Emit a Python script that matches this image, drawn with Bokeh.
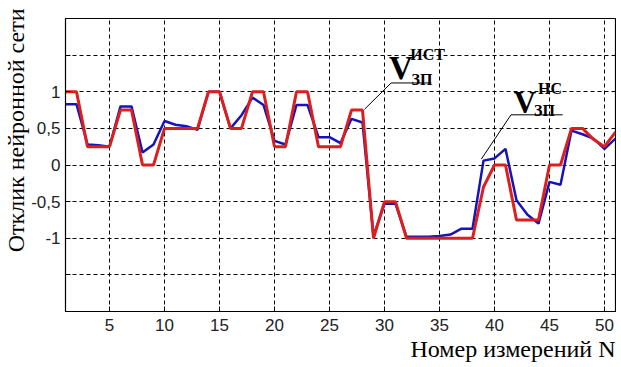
from bokeh.plotting import figure
from bokeh.models import FixedTicker, Label, Title
from bokeh.embed import file_html
from bokeh.resources import INLINE

N = list(range(1, 52))
target = [1, 1, 0.25, 0.25, 0.25, 0.75, 0.75, 0, 0, 0.5,
          0.5, 0.5, 0.5, 1, 1, 0.5, 0.5, 1, 1, 0.25,
          0.25, 1, 1, 0.25, 0.25, 0.25, 0.75, 0.75, -1, -0.5,
          -0.5, -1, -1, -1, -1, -1, -1, -1, -0.3, 0,
          0, -0.75, -0.75, -0.75, 0, 0, 0.5, 0.5, 0.35, 0.25,
          0.45]
network = [0.83, 0.83, 0.28, 0.27, 0.25, 0.8, 0.8, 0.17, 0.28, 0.6,
           0.55, 0.53, 0.48, 1.0, 1.0, 0.5, 0.68, 0.92, 0.82, 0.33,
           0.28, 0.82, 0.82, 0.38, 0.38, 0.3, 0.63, 0.58, -0.97, -0.53,
           -0.53, -0.98, -0.98, -0.98, -0.97, -0.95, -0.87, -0.87, 0.06, 0.09,
           0.22, -0.48, -0.68, -0.8, -0.23, -0.27, 0.47, 0.42, 0.36, 0.22,
           0.36]
x_ticks = [5, 10, 15, 20, 25, 30, 35, 40, 45, 50]
y_ticks = [-1.5, -1, -0.5, 0, 0.5, 1, 1.5]
y_labels = {-1.5: "", -1: "-1", -0.5: "-0,5", 0: "0", 0.5: "0,5", 1: "1", 1.5: ""}

p = figure(width=616, height=366, x_range=(1, 51), y_range=(-2, 2),
           output_backend="svg", toolbar_location=None,
           min_border_left=64, min_border_right=1, min_border_top=18,
           min_border_bottom=55)
p.background_fill_color = "white"
p.border_fill_color = "white"
p.outline_line_color = "black"
p.outline_line_width = 1.2

p.xaxis.ticker = FixedTicker(ticks=x_ticks)
p.yaxis.ticker = FixedTicker(ticks=y_ticks)
p.yaxis.major_label_overrides = y_labels
for ax in (p.xaxis, p.yaxis):
    ax.major_tick_in = 5
    ax.major_tick_out = 0
    ax.minor_tick_in = 0
    ax.minor_tick_out = 0
    ax.axis_line_color = "black"
    ax.major_tick_line_color = "black"
    ax.major_label_text_font = "Liberation Sans"
    ax.major_label_text_font_size = "17px"
    ax.major_label_text_color = "#222222"
p.xaxis.major_label_standoff = 7
p.yaxis.major_label_standoff = 5

p.xgrid.ticker = FixedTicker(ticks=x_ticks)
p.ygrid.ticker = FixedTicker(ticks=y_ticks)
for g in (p.xgrid, p.ygrid):
    g.grid_line_color = "black"
    g.grid_line_dash = "4 3"
    g.grid_line_width = 1
    g.grid_line_alpha = 1.0

p.line(N, network, line_color="#1414b8", line_width=2.5)
p.line(N, target, line_color="#dc1e1e", line_width=3)

# annotation leaders
p.line([28.18, 30.6, 34.25], [0.76, 1.12, 1.12], line_color="black", line_width=1)
p.line([38.8, 41.5, 46.2], [0.08, 0.685, 0.685], line_color="black", line_width=1)

def lab(x, y, t, size):
    p.add_layout(Label(x=x, y=y, text=t, text_font="Liberation Serif",
                       text_font_size=size, text_font_style="bold",
                       text_color="black", text_baseline="alphabetic",
                       text_align="left"))

lab(30.4, 1.32, "V", "33px")
lab(32.35, 1.51, "ИСТ", "16px")
lab(32.45, 1.17, "ЗП", "16px")
lab(41.75, 0.85, "V", "31px")
lab(43.95, 1.05, "НС", "16px")
lab(43.6, 0.74, "ЗП", "16px")

yt = Title(text="Отклик нейронной сети", align="right", text_font="Liberation Serif",
           text_font_size="24px", text_font_style="normal", text_color="black",
           standoff=0, offset=-10)
p.add_layout(yt, "left")

xt = Title(text="Номер измерений N", align="right", text_font="Liberation Serif",
           text_font_size="24px", text_font_style="normal", text_color="black",
           standoff=0)
p.add_layout(xt, "below")

open("out.html", "w").write(file_html(p, INLINE))
